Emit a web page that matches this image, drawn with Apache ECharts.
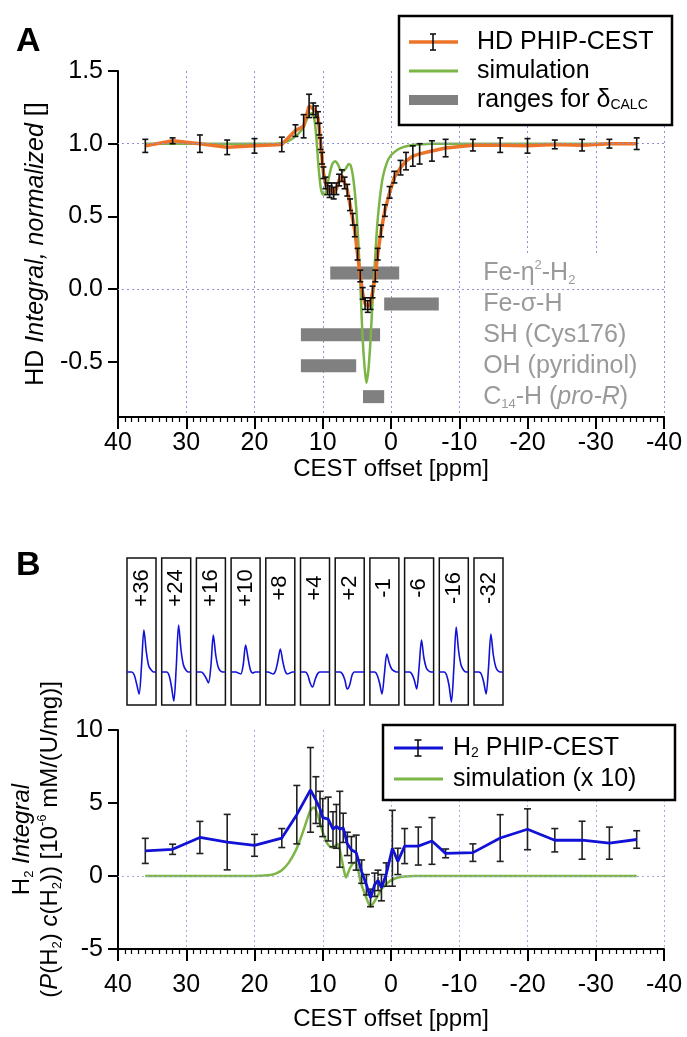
<!DOCTYPE html>
<html><head><meta charset="utf-8">
<script src="https://cdn.jsdelivr.net/npm/echarts@6/dist/echarts.min.js"></script>
<style>html,body{margin:0;padding:0;background:#fff}#c{width:687px;height:1037px}</style>
</head><body><div id="c"></div>
<script>
// ---------- Panel A data ----------
const hdOffset = [36,32,28,24,20,16,14,12.8,12,11.4, 11.0,10.7,10.5,10.3,10.1,9.9,9.6,9.3,9.0,8.7, 8.4,8.0,7.6,7.2,6.8,6.4,6.0,5.6,5.3,4.9, 4.5,4.15,3.8,3.4,3.0,2.7,2.3,1.95,1.45,0.9, 0.2,-0.5,-1.4,-2.2,-3.2,-4.2,-6,-8,-12,-16, -20,-24,-28,-32,-36];
const hdValue = [0.985,1.02,1.0,0.975,0.985,0.995,1.09,1.12,1.26,1.24, 1.22,1.18,1.10,1.00,0.90,0.80,0.73,0.69,0.67,0.69, 0.66,0.69,0.75,0.78,0.73,0.68,0.58,0.48,0.40,0.24, 0.09,-0.03,-0.10,-0.12,-0.10,-0.02,0.09,0.24,0.40,0.54, 0.665,0.77,0.835,0.88,0.915,0.93,0.95,0.97,0.99,0.99, 0.985,0.995,0.99,1.0,1.0];
const hdError = [0.045,0.02,0.06,0.05,0.05,0.05,0.04,0.08,0.08,0.04, 0.04,0.04,0.04,0.04,0.04,0.04,0.04,0.04,0.04,0.04, 0.04,0.04,0.04,0.04,0.04,0.04,0.04,0.04,0.04,0.04, 0.04,0.04,0.04,0.04,0.04,0.04,0.04,0.04,0.04,0.04, 0.04,0.04,0.05,0.06,0.07,0.07,0.07,0.06,0.04,0.05, 0.05,0.03,0.04,0.03,0.04];
const simAOffset = [36,20,17,16,15,14,13,12.5,12,11.6,11.2,10.9,10.6,10.3,10.0,9.7,9.4,9.0,8.6,8.2,7.8,7.4,7.0,6.6,6.2,5.9,5.5,5.1,4.8,4.5,4.2,3.9,3.6,3.3,3.0,2.7,2.4,2.0,1.6,1.2,0.6,0.0,-1,-2,-3,-4,-6,-36];
const simAValue = [1.0,1.0,1.0,1.005,1.02,1.05,1.1,1.15,1.2,1.21,1.16,1.02,0.83,0.7,0.65,0.65,0.7,0.79,0.86,0.88,0.86,0.82,0.81,0.83,0.86,0.85,0.75,0.56,0.33,0.05,-0.3,-0.52,-0.645,-0.55,-0.35,-0.08,0.15,0.45,0.64,0.77,0.87,0.92,0.96,0.98,0.99,0.995,1.0,1.0];
const rangeLabels = ['Fe-\u03b7{sup|2}-H{sub|2}','Fe-\u03c3-H','SH (Cys176)','OH (pyridinol)','C{sub|14}-H ({i|pro-R})'];
const rangeFrom = [8.9, 1.0, 13.2, 13.2, 4.1];
const rangeTo = [-1.2, -7.0, 1.6, 5.1, 1.0];
const rangeLevel = [0.11, -0.103, -0.315, -0.527, -0.74];
const yTicksA = [-0.5, 0, 0.5, 1.0, 1.5];
const hLinesA = [1.0, 0.0];

// ---------- Panel B data ----------
const h2Offset = [36,32,28,24,20,16,13.8,11.8,11.0,10.4,10.0,9.2,8.5,8.0,7.5,7.0,6.4,5.8,5.1,4.3,3.6,3.0,2.4,1.9,1.4,0.7,-0.2,-1.0,-2.0,-4.0,-6.0,-8,-12,-16,-20,-24,-28,-32,-36];
const h2Value = [1.72,1.83,2.64,2.32,2.1,2.6,4.2,5.9,5.2,4.6,4.0,3.9,3.2,3.4,3.2,3.3,2.2,1.8,1.6,0.3,-0.6,-1.5,-0.6,-0.3,-0.8,0.1,1.9,1.0,2.05,2.05,2.4,1.55,1.6,2.6,3.2,2.45,2.45,2.25,2.5];
const h2Error = [0.86,0.35,1.1,1.9,0.75,0.65,2.0,2.9,1.6,1.2,1.3,1.5,1.2,1.5,2.6,1.0,0.8,0.9,1.2,0.8,0.7,0.6,0.8,0.7,0.9,0.8,2.6,0.9,1.2,1.3,1.6,0.3,0.6,1.6,1.4,0.8,1.3,1.1,0.6];
const simBOffset = [36,20,18,17,16,15,14,13.3,12.7,12.2,11.8,11.3,10.9,10.5,10.0,9.6,9.3,8.9,8.5,8.1,7.8,7.5,7.2,6.9,6.6,6.3,6.0,5.6,5.2,4.8,4.5,4.1,3.6,3.0,2.5,2.0,1.4,0.8,0.0,-1.0,-2.0,-3.5,-6,-36];
const simBValue = [0,0,0.05,0.15,0.4,0.9,1.7,2.5,3.3,4.0,4.5,4.7,4.4,3.8,3.0,2.5,2.2,2.0,1.95,2.1,2.2,1.8,1.1,0.4,-0.1,0.2,0.55,0.85,0.95,0.4,-0.3,-0.9,-1.5,-2.1,-1.8,-1.4,-0.9,-0.6,-0.3,-0.1,-0.03,0,0,0];
const yTicksB = [-5, 0, 5, 10];
const hLinesB = [0];

// ---------- Insets (spectra) ----------
const insetLabels = ['+36','+24','+16','+10','+8','+4','+2','-1','-6','-16','-32'];
const insetSpectra = [
  [0,0,0,-3,-12,-22,6,42,20,6,2,0,0],
  [0,0,0,-3,-14,-29,4,47,22,7,2,0,0],
  [0,0,0,-2,-6,-11,6,37,17,5,1,0,0],
  [0,0,0,-1,-2,7,27,14,2,-1,0,0,0],
  [0,0,-1,-2,1,11,23,11,1,-2,-1,0,0],
  [0,0,0,-3,-11,-15,-8,-2,0,0,0,0,0],
  [0,0,0,-2,-8,-17,-13,-3,0,0,0,0,0],
  [0,0,0,-3,-11,-22,-2,18,9,3,1,0,0],
  [0,0,0,-2,-8,-17,5,32,14,4,1,0,0],
  [0,0,0,-3,-13,-30,3,45,21,7,2,0,0],
  [0,0,0,-2,-10,-22,4,38,17,5,1,0,0]
];

// ---------- styling ----------
const FF = '"Liberation Sans", Arial, Helvetica, sans-serif';
const ORANGE = '#ec7328', GREEN = '#7bb545', BLUE = '#1212d6', GRAYBAR = '#808080', GRAYTXT = '#9a9a9a';
const GRIDC = '#9191d6';
const FS = 25;   // tick labels
const FN = 24;   // axis names
const FL = 25;   // legend / labels

const gridA = {left: 118, right: 23, top: 71, height: 346};
const gridB = {left: 118, right: 23, top: 730, height: 219};
const inset = {left: 127, pitch: 34.7, width: 29, top: 558, height: 147};

function errRender(cap, color, lw) {
  return function (params, api) {
    const x = api.value(0), y = api.value(1), e = api.value(2);
    const t = api.coord([x, y + e]), b = api.coord([x, y - e]);
    const st = {stroke: color, lineWidth: lw};
    return {type: 'group', children: [
      {type: 'line', shape: {x1: t[0], y1: t[1], x2: b[0], y2: b[1]}, style: st},
      {type: 'line', shape: {x1: t[0] - cap, y1: t[1], x2: t[0] + cap, y2: t[1]}, style: st},
      {type: 'line', shape: {x1: b[0] - cap, y1: b[1], x2: b[0] + cap, y2: b[1]}, style: st}
    ]};
  };
}
const richSub = {
  sub: {fontSize: 13, fontFamily: FF, fill: GRAYTXT, color: GRAYTXT, verticalAlign: 'bottom', lineHeight: 13},
  sup: {fontSize: 13, fontFamily: FF, fill: GRAYTXT, color: GRAYTXT, verticalAlign: 'top', lineHeight: 13},
  i: {fontSize: FL, fontStyle: 'italic', fontFamily: FF, color: GRAYTXT, fill: GRAYTXT, lineHeight: 28}
};
const LABEL_PPM = -13.5;
function rangeRender(params, api) {
  const x1 = api.value(0), x2 = api.value(1), y = api.value(2), idx = api.value(3);
  const p1 = api.coord([x1, y]), p2 = api.coord([x2, y]);
  const lx = api.coord([LABEL_PPM, y]);
  return {type: 'group', children: [
    {type: 'rect', shape: {x: Math.min(p1[0], p2[0]), y: p1[1] - 6.5, width: Math.abs(p2[0] - p1[0]), height: 13}, style: {fill: GRAYBAR}},
    {type: 'text', x: lx[0], y: lx[1], z2: 10, style: {text: rangeLabels[idx], fontSize: FL, fontFamily: FF, fill: GRAYTXT, align: 'left', verticalAlign: 'middle', lineHeight: 28, rich: richSub}}
  ]};
}

function xAxisMain(gi, gridColor, labelMargin, nameGap) {
  return {
    gridIndex: gi, type: 'value', min: -40, max: 40, interval: 10, inverse: true,
    axisLine: {show: true, onZero: false, lineStyle: {color: '#000', width: 2}},
    axisTick: {show: true, length: 12, lineStyle: {color: '#000', width: 2}},
    minorTick: {show: true, splitNumber: 10, length: 5, lineStyle: {color: '#000', width: 1.2}},
    splitLine: {show: true, lineStyle: {color: gridColor, type: [2, 3], width: 1}},
    axisLabel: {fontSize: FS, color: '#000', fontFamily: FF, margin: labelMargin},
    name: 'CEST offset [ppm]', nameLocation: 'middle', nameGap: nameGap,
    nameTextStyle: {fontSize: FN, color: '#000', fontFamily: FF}
  };
}

const series = [];
series.push({type: 'line', xAxisIndex: 0, yAxisIndex: 0, data: [], z: 0, silent: true,
  markLine: {silent: true, symbol: 'none', label: {show: false}, lineStyle: {color: GRIDC, type: [2, 3], width: 1},
    data: hLinesA.map(v => ({yAxis: v}))}});
series.push({type: 'line', xAxisIndex: 1, yAxisIndex: 1, data: [], z: 0, silent: true,
  markLine: {silent: true, symbol: 'none', label: {show: false}, lineStyle: {color: '#a9a9dd', type: [2, 3], width: 1},
    data: hLinesB.map(v => ({yAxis: v}))}});
series.push({type: 'custom', xAxisIndex: 0, yAxisIndex: 0, z: 2, renderItem: rangeRender,
  data: rangeLabels.map((l, i) => [rangeFrom[i], rangeTo[i], rangeLevel[i], i])});
series.push({type: 'line', name: 'simulation', xAxisIndex: 0, yAxisIndex: 0, z: 3, smooth: 0.25, symbol: 'none',
  lineStyle: {color: GREEN, width: 2.5}, data: simAOffset.map((x, i) => [x, simAValue[i]])});
series.push({type: 'line', name: 'HD PHIP-CEST', xAxisIndex: 0, yAxisIndex: 0, z: 4, symbol: 'none',
  lineStyle: {color: ORANGE, width: 3.5}, data: hdOffset.map((x, i) => [x, hdValue[i]])});
series.push({type: 'custom', xAxisIndex: 0, yAxisIndex: 0, z: 5, renderItem: errRender(3, '#111', 1.6),
  data: hdOffset.map((x, i) => [x, hdValue[i], hdError[i]])});
series.push({type: 'line', name: 'simulation (x 10)', xAxisIndex: 1, yAxisIndex: 1, z: 3, smooth: 0.25, symbol: 'none',
  lineStyle: {color: GREEN, width: 2.5}, data: simBOffset.map((x, i) => [x, simBValue[i]])});
series.push({type: 'custom', xAxisIndex: 1, yAxisIndex: 1, z: 4, renderItem: errRender(3.5, '#222', 1.6),
  data: h2Offset.map((x, i) => [x, h2Value[i], h2Error[i]])});
series.push({type: 'line', name: 'H2 PHIP-CEST', xAxisIndex: 1, yAxisIndex: 1, z: 5, symbol: 'none',
  lineStyle: {color: BLUE, width: 2.8}, data: h2Offset.map((x, i) => [x, h2Value[i]])});

const grids = [gridA, gridB];
const xAxes = [xAxisMain(0, GRIDC, 14, 40), xAxisMain(1, '#a9a9dd', 24, 58)];
const yAxes = [
  {gridIndex: 0, type: 'value', min: -0.88, max: 1.5,
    axisLine: {show: true, onZero: false, lineStyle: {color: '#000', width: 2}},
    axisTick: {show: true, length: 10, lineStyle: {color: '#000', width: 2}, customValues: yTicksA},
    axisLabel: {fontSize: FS, color: '#000', fontFamily: FF, margin: 15, customValues: yTicksA, formatter: v => v.toFixed(1)},
    splitLine: {show: false},
    name: 'HD {i|Integral, normalized} []', nameLocation: 'middle', nameGap: 67,
    nameTextStyle: {fontSize: FL, color: '#000', fontFamily: FF, rich: {i: {fontSize: FL, fontStyle: 'italic', fontFamily: FF, color: '#000'}}}},
  {gridIndex: 1, type: 'value', min: -5, max: 10, interval: 5,
    axisLine: {show: true, onZero: false, lineStyle: {color: '#000', width: 2}},
    axisTick: {show: true, length: 10, lineStyle: {color: '#000', width: 2}, customValues: yTicksB},
    axisLabel: {fontSize: FS, color: '#000', fontFamily: FF, margin: 15, customValues: yTicksB},
    splitLine: {show: false},
    name: 'H{s|2} {i|Integral}\n({i|P}(H{s|2}) {i|c}(H{s|2})) [10{u|-6} mM/(U/mg)]', nameLocation: 'middle', nameGap: 48,
    nameTextStyle: {fontSize: FN, color: '#000', fontFamily: FF, lineHeight: 28, rich: {
      i: {fontSize: FN, fontStyle: 'italic', fontFamily: FF, color: '#000', lineHeight: 28},
      s: {fontSize: 13, fontFamily: FF, color: '#000', verticalAlign: 'bottom', lineHeight: 20},
      u: {fontSize: 13, fontFamily: FF, color: '#000', verticalAlign: 'top', lineHeight: 28}}}}
];

insetLabels.forEach((lab, i) => {
  const gi = grids.length;
  grids.push({left: inset.left + i * inset.pitch, top: inset.top, width: inset.width, height: inset.height,
    show: true, borderColor: '#111', borderWidth: 1.5, backgroundColor: 'transparent'});
  xAxes.push({gridIndex: gi, type: 'value', min: 0, max: 12, show: false});
  yAxes.push({gridIndex: gi, type: 'value', min: -33, max: 114, show: false});
  series.push({type: 'line', xAxisIndex: gi, yAxisIndex: gi, smooth: 0.3, symbol: 'none', silent: true,
    lineStyle: {color: BLUE, width: 1.6}, data: insetSpectra[i].map((v, k) => [k, v])});
});

const graphic = [];
graphic.push({type: 'text', x: 16, y: 42, style: {text: 'A', fontSize: 34, fontWeight: 'bold', fontFamily: FF, fill: '#000', verticalAlign: 'middle'}});
graphic.push({type: 'text', x: 16, y: 566, style: {text: 'B', fontSize: 34, fontWeight: 'bold', fontFamily: FF, fill: '#000', verticalAlign: 'middle'}});
graphic.push({type: 'rect', z: 1, shape: {x: 463, y: 256, width: 189, height: 158}, style: {fill: '#fff'}});
insetLabels.forEach((lab, i) => {
  graphic.push({type: 'text', z: 10, x: inset.left + i * inset.pitch + inset.width / 2, y: 588, rotation: Math.PI / 2,
    style: {text: lab, fontSize: 22, fontFamily: FF, fill: '#000', align: 'center', verticalAlign: 'middle'}});
});
function legendBox(x, y, w, h) {
  return {type: 'rect', z: 100, shape: {x: x, y: y, width: w, height: h}, style: {fill: '#fff', stroke: '#000', lineWidth: 2.5}};
}
function errIcon(cx, cy, half, cap) {
  return [
    {type: 'line', z: 102, shape: {x1: cx, y1: cy - half, x2: cx, y2: cy + half}, style: {stroke: '#111', lineWidth: 1.6}},
    {type: 'line', z: 102, shape: {x1: cx - cap, y1: cy - half, x2: cx + cap, y2: cy - half}, style: {stroke: '#111', lineWidth: 1.6}},
    {type: 'line', z: 102, shape: {x1: cx - cap, y1: cy + half, x2: cx + cap, y2: cy + half}, style: {stroke: '#111', lineWidth: 1.6}}
  ];
}
const legRich = {
  sub: {fontSize: 14, fontFamily: FF, fill: '#000', verticalAlign: 'bottom', lineHeight: 14}
};
graphic.push(legendBox(399, 16, 273, 109));
graphic.push({type: 'line', z: 101, shape: {x1: 409, y1: 42, x2: 458, y2: 42}, style: {stroke: ORANGE, lineWidth: 3.5}});
errIcon(433, 42, 8, 3).forEach(e => graphic.push(e));
graphic.push({type: 'text', z: 102, x: 477, y: 42, style: {text: 'HD PHIP-CEST', fontSize: FL, fontFamily: FF, fill: '#000', verticalAlign: 'middle'}});
graphic.push({type: 'line', z: 101, shape: {x1: 409, y1: 71, x2: 458, y2: 71}, style: {stroke: GREEN, lineWidth: 3}});
graphic.push({type: 'text', z: 102, x: 477, y: 71, style: {text: 'simulation', fontSize: FL, fontFamily: FF, fill: '#000', verticalAlign: 'middle'}});
graphic.push({type: 'rect', z: 101, shape: {x: 409, y: 95, width: 49, height: 10}, style: {fill: GRAYBAR}});
graphic.push({type: 'text', z: 102, x: 477, y: 100, style: {text: 'ranges for \u03b4{sub|CALC}', fontSize: FL, fontFamily: FF, fill: '#000', verticalAlign: 'middle', rich: legRich}});
graphic.push(legendBox(383, 725, 292, 75));
graphic.push({type: 'line', z: 101, shape: {x1: 394, y1: 748, x2: 443, y2: 748}, style: {stroke: BLUE, lineWidth: 3}});
errIcon(418, 748, 8, 3.5).forEach(e => graphic.push(e));
graphic.push({type: 'text', z: 102, x: 453, y: 748, style: {text: 'H{sub|2} PHIP-CEST', fontSize: FL, fontFamily: FF, fill: '#000', verticalAlign: 'middle', rich: legRich}});
graphic.push({type: 'line', z: 101, shape: {x1: 394, y1: 779, x2: 443, y2: 779}, style: {stroke: GREEN, lineWidth: 3}});
graphic.push({type: 'text', z: 102, x: 453, y: 779, style: {text: 'simulation (x 10)', fontSize: FL, fontFamily: FF, fill: '#000', verticalAlign: 'middle'}});

const chart = echarts.init(document.getElementById('c'), null, {renderer: 'canvas'});
chart.setOption({
  animation: false,
  backgroundColor: '#fff',
  textStyle: {fontFamily: FF},
  grid: grids,
  xAxis: xAxes,
  yAxis: yAxes,
  series: series,
  graphic: {elements: graphic}
});
</script>
</body></html>
